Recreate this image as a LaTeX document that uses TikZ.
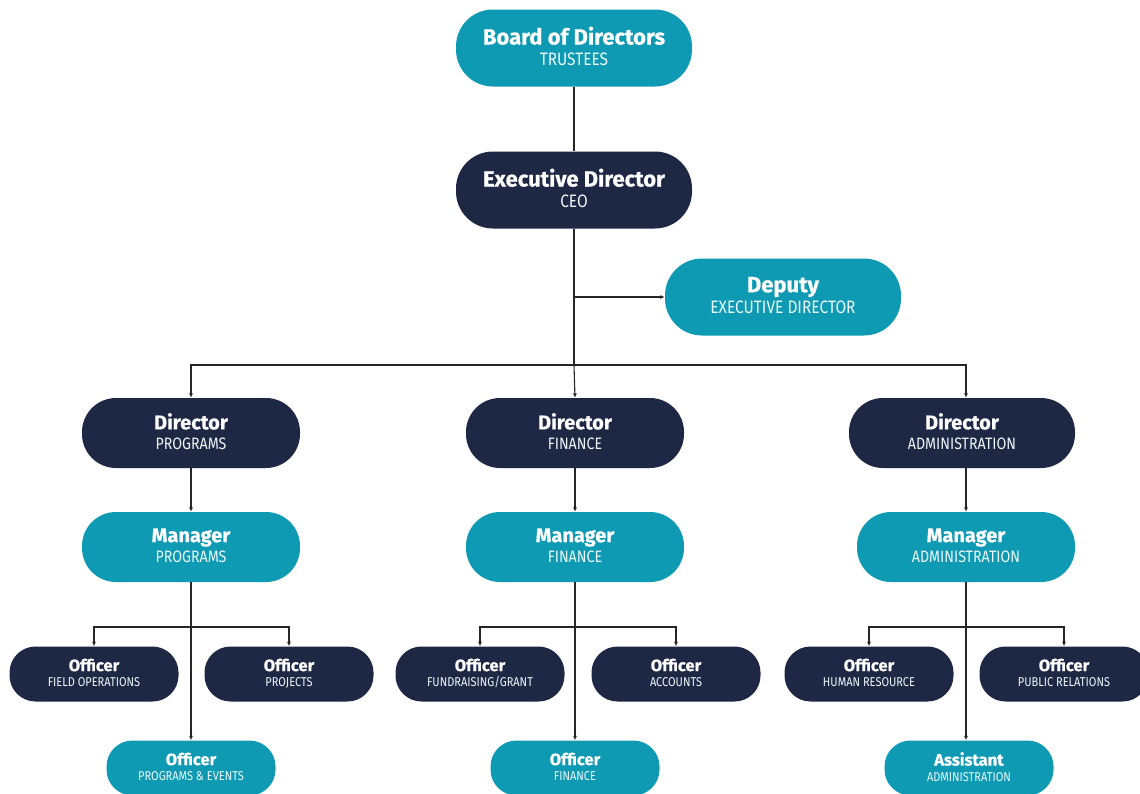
\documentclass[tikz,border=0pt]{standalone}
\usepackage{fontspec}
\setmainfont{Fira Sans}[BoldFeatures={FakeBold=0.6}]
\newfontfamily\subfont{Fira Sans}[FakeStretch=0.86]
\usetikzlibrary{arrows.meta}
\definecolor{teal1}{HTML}{0E9AB3}
\definecolor{navy1}{HTML}{1E2744}
\tikzset{
  box/.style={draw=none, align=center, text=white, inner sep=0pt},
  bigbox/.style={box, minimum width=236pt, minimum height=77pt, rounded corners=37pt, font=\fontsize{22}{21}\selectfont},
  midbox/.style={box, minimum width=218pt, minimum height=70pt, rounded corners=34pt, font=\fontsize{20}{20}\selectfont},
  smallbox/.style={box, minimum width=169pt, minimum height=55pt, rounded corners=26pt, font=\fontsize{16.5}{15.5}\selectfont},
  tealfill/.style={fill=teal1},
  navyfill/.style={fill=navy1},
  conn/.style={draw=black!85, line width=1.1pt},
  arr/.style={conn, -{Latex[length=4.5pt,width=4pt]}},
}
\newcommand{\hd}[1]{\textbf{#1}}
\newcommand{\sbig}[1]{{\subfont\fontsize{18}{21}\selectfont\color{white!92!teal1}#1\vphantom{Jg}}}
\newcommand{\smid}[1]{{\subfont\fontsize{16.5}{20}\selectfont\color{white!92!teal1}#1\vphantom{Jg}}}
\newcommand{\ssml}[1]{{\subfont\fontsize{12.8}{15.5}\selectfont\color{white!92!teal1}#1\vphantom{Jg}}}
\begin{document}
\begin{tikzpicture}[x=1pt,y=-1pt]
\useasboundingbox (0,0) rectangle (1140,793);
\fill[white] (0,0) rectangle (1140,793);

\node[bigbox,tealfill] (board) at (574,48) {\hd{Board of Directors}\\\sbig{TRUSTEES}};
\node[bigbox,navyfill] (exec) at (574,190) {\hd{Executive Director}\\\sbig{CEO}};
\node[bigbox,tealfill] (dep) at (783,297) {\hd{Deputy}\\\sbig{EXECUTIVE DIRECTOR}};

\node[midbox,navyfill] (dirP) at (191,433) {\hd{Director}\\\smid{PROGRAMS}};
\node[midbox,navyfill] (dirF) at (575,433) {\hd{Director}\\\smid{FINANCE}};
\node[midbox,navyfill,minimum width=226pt] (dirA) at (962,433) {\hd{Director}\\\smid{ADMINISTRATION}};

\node[midbox,tealfill] (manP) at (191,547) {\hd{Manager}\\\smid{PROGRAMS}};
\node[midbox,tealfill] (manF) at (575,547) {\hd{Manager}\\\smid{FINANCE}};
\node[midbox,tealfill] (manA) at (966,547) {\hd{Manager}\\\smid{ADMINISTRATION}};

\node[smallbox,navyfill] (oFO) at (94,674) {\hd{Officer}\\\ssml{FIELD OPERATIONS}};
\node[smallbox,navyfill] (oPJ) at (289,674) {\hd{Officer}\\\ssml{PROJECTS}};
\node[smallbox,navyfill] (oFG) at (480,674) {\hd{Officer}\\\ssml{FUNDRAISING/GRANT}};
\node[smallbox,navyfill] (oAC) at (676,674) {\hd{Officer}\\\ssml{ACCOUNTS}};
\node[smallbox,navyfill] (oHR) at (869,674) {\hd{Officer}\\\ssml{HUMAN RESOURCE}};
\node[smallbox,navyfill] (oPR) at (1064,674) {\hd{Officer}\\\ssml{PUBLIC RELATIONS}};

\node[smallbox,tealfill] (oPE) at (191,768) {\hd{Officer}\\\ssml{PROGRAMS \& EVENTS}};
\node[smallbox,tealfill] (oFI) at (575,768) {\hd{Officer}\\\ssml{FINANCE}};
\node[smallbox,tealfill] (aAD) at (969,768) {\hd{Assistant}\\\ssml{ADMINISTRATION}};

% connectors
\coordinate (jdep) at (574,297);
\coordinate (bus) at (574,365);
\draw[conn] (board.south) -- (exec.north);
\draw[conn] (exec.south) -- (bus);
\draw[arr] (jdep) -- (dep.west);
\draw[arr] (bus) -- (dirF.north);
\draw[arr] (bus) -| (dirP.north);
\draw[arr] (bus) -| (dirA.north -| manA.north);

\draw[arr] (dirP.south) -- (manP.north);
\draw[arr] (dirF.south) -- (manF.north);
\draw[arr] (dirA.south -| manA.north) -- (manA.north);

\coordinate (bP) at (191,627);
\coordinate (bF) at (575,627);
\coordinate (bA) at (966,627);
\draw[arr] (manP.south) -- (oPE.north);
\draw[arr] (bP) -| (oFO.north);
\draw[arr] (bP) -| (oPJ.north);
\draw[arr] (manF.south) -- (oFI.north);
\draw[arr] (bF) -| (oFG.north);
\draw[arr] (bF) -| (oAC.north);
\draw[arr] (manA.south) -- (aAD.north -| manA.south);
\draw[arr] (bA) -| (oHR.north);
\draw[arr] (bA) -| (oPR.north);
\end{tikzpicture}
\end{document}
